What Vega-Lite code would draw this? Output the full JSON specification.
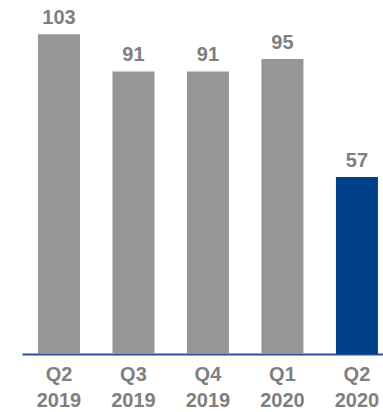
{
  "$schema": "https://vega.github.io/schema/vega-lite/v6.json",
  "width": 361,
  "height": 354,
  "autosize": {"type": "none"},
  "padding": {"left": 22, "top": 0, "right": 0, "bottom": 58},
  "config": {"view": {"stroke": null}, "font": "Liberation Sans"},
  "data": {"values": [
    {"quarter": "Q2 2019", "value": 103},
    {"quarter": "Q3 2019", "value": 91},
    {"quarter": "Q4 2019", "value": 91},
    {"quarter": "Q1 2020", "value": 95},
    {"quarter": "Q2 2020", "value": 57}
  ]},
  "encoding": {
    "x": {"field": "quarter", "type": "nominal", "sort": null,
      "scale": {"paddingInner": 0.436, "paddingOuter": 0.141, "align": 0.76},
      "axis": {"title": null, "labelAngle": 0, "ticks": false,
        "labelExpr": "split(datum.label, ' ')",
        "labelFont": "Liberation Sans", "labelFontWeight": "bold", "labelFontSize": 20,
        "labelColor": "#7f7f7f", "labelLineHeight": 26, "labelPadding": 10,
        "domainColor": "#2b4f9c", "domainWidth": 2}},
    "y": {"field": "value", "type": "quantitative",
      "scale": {"domain": [0, 114], "nice": false, "zero": true},
      "axis": null}
  },
  "layer": [
    {"mark": {"type": "bar"},
     "encoding": {"color": {"condition": {"test": "datum.quarter == 'Q2 2020'", "value": "#003f8a"}, "value": "#969696"}}},
    {"mark": {"type": "text", "dy": -10, "baseline": "alphabetic", "font": "Liberation Sans", "fontWeight": "bold", "fontSize": 20, "color": "#7f7f7f"},
     "encoding": {"text": {"field": "value", "type": "quantitative"}}}
  ]
}
